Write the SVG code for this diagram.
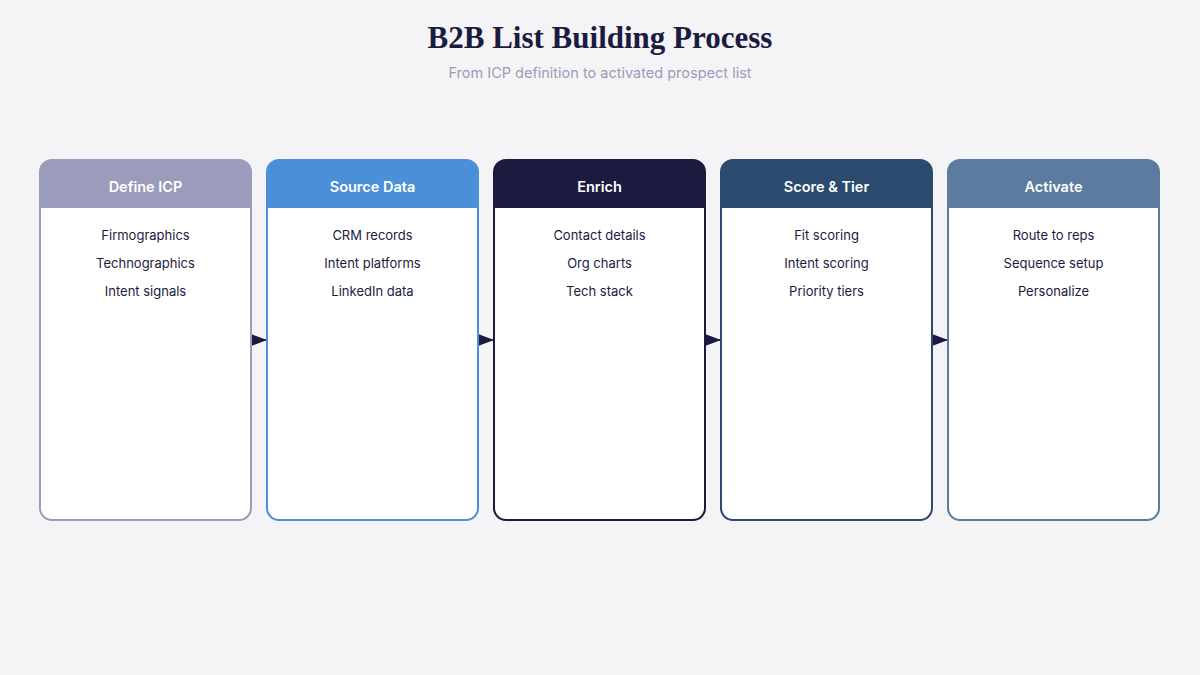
<svg xmlns="http://www.w3.org/2000/svg" width="1200" height="675" viewBox="0 0 1200 675">
<style>
.bg{fill:#f4f4f7}
.title{font-family:"Liberation Serif","DejaVu Serif",serif;font-weight:bold;font-size:31px;fill:#1b1b40;text-anchor:middle}
.sub{font-family:Inter,"Noto Sans",sans-serif;font-size:14.5px;fill:#9a9cb8;text-anchor:middle}
.card{fill:#ffffff;stroke-width:2}
.head{font-family:Inter,"Noto Sans",sans-serif;font-size:14.5px;font-weight:600;fill:#ffffff;text-anchor:middle}
.item{font-family:Inter,"Noto Sans",sans-serif;font-size:13px;fill:#1b1b3f;text-anchor:middle}
.conn{stroke:#1b1b40;stroke-width:1.5;fill:none}
</style>
<defs>
<marker id="ah" viewBox="0 0 16 12" refX="16" refY="6" markerWidth="16" markerHeight="12" markerUnits="userSpaceOnUse" orient="auto">
<path d="M0,0 L16,6 L0,12 z" fill="#1b1b40"/>
</marker>
</defs>
<rect class="bg" width="1200" height="675"/>
<text class="title" x="600" y="48">B2B List Building Process</text>
<text class="sub" x="600" y="78">From ICP definition to activated prospect list</text>

<g id="connectors">
<path class="conn" d="M251,340 L267,340" marker-end="url(#ah)"/>
<path class="conn" d="M478,340 L494,340" marker-end="url(#ah)"/>
<path class="conn" d="M705,340 L721,340" marker-end="url(#ah)"/>
<path class="conn" d="M932,340 L948,340" marker-end="url(#ah)"/>
</g>

<g id="define-icp">
<rect class="card" x="40" y="160" width="211" height="360" rx="12" stroke="#9b9bbb"/>
<path d="M40,208 V172 A12,12 0 0 1 52,160 H239 A12,12 0 0 1 251,172 V208 Z" fill="#9b9bbb"/>
<text class="head" x="145.5" y="192">Define ICP</text>
<text class="item" x="145.5" y="240">Firmographics</text>
<text class="item" x="145.5" y="268">Technographics</text>
<text class="item" x="145.5" y="296">Intent signals</text>
</g>

<g id="source-data">
<rect class="card" x="267" y="160" width="211" height="360" rx="12" stroke="#4a90d9"/>
<path d="M267,208 V172 A12,12 0 0 1 279,160 H466 A12,12 0 0 1 478,172 V208 Z" fill="#4a90d9"/>
<text class="head" x="372.5" y="192">Source Data</text>
<text class="item" x="372.5" y="240">CRM records</text>
<text class="item" x="372.5" y="268">Intent platforms</text>
<text class="item" x="372.5" y="296">LinkedIn data</text>
</g>

<g id="enrich">
<rect class="card" x="494" y="160" width="211" height="360" rx="12" stroke="#1b1b40"/>
<path d="M494,208 V172 A12,12 0 0 1 506,160 H693 A12,12 0 0 1 705,172 V208 Z" fill="#1b1b40"/>
<text class="head" x="599.5" y="192">Enrich</text>
<text class="item" x="599.5" y="240">Contact details</text>
<text class="item" x="599.5" y="268">Org charts</text>
<text class="item" x="599.5" y="296">Tech stack</text>
</g>

<g id="score-tier">
<rect class="card" x="721" y="160" width="211" height="360" rx="12" stroke="#2c4a6e"/>
<path d="M721,208 V172 A12,12 0 0 1 733,160 H920 A12,12 0 0 1 932,172 V208 Z" fill="#2c4a6e"/>
<text class="head" x="826.5" y="192">Score &amp; Tier</text>
<text class="item" x="826.5" y="240">Fit scoring</text>
<text class="item" x="826.5" y="268">Intent scoring</text>
<text class="item" x="826.5" y="296">Priority tiers</text>
</g>

<g id="activate">
<rect class="card" x="948" y="160" width="211" height="360" rx="12" stroke="#5b7ba0"/>
<path d="M948,208 V172 A12,12 0 0 1 960,160 H1147 A12,12 0 0 1 1159,172 V208 Z" fill="#5b7ba0"/>
<text class="head" x="1053.5" y="192">Activate</text>
<text class="item" x="1053.5" y="240">Route to reps</text>
<text class="item" x="1053.5" y="268">Sequence setup</text>
<text class="item" x="1053.5" y="296">Personalize</text>
</g>
</svg>
